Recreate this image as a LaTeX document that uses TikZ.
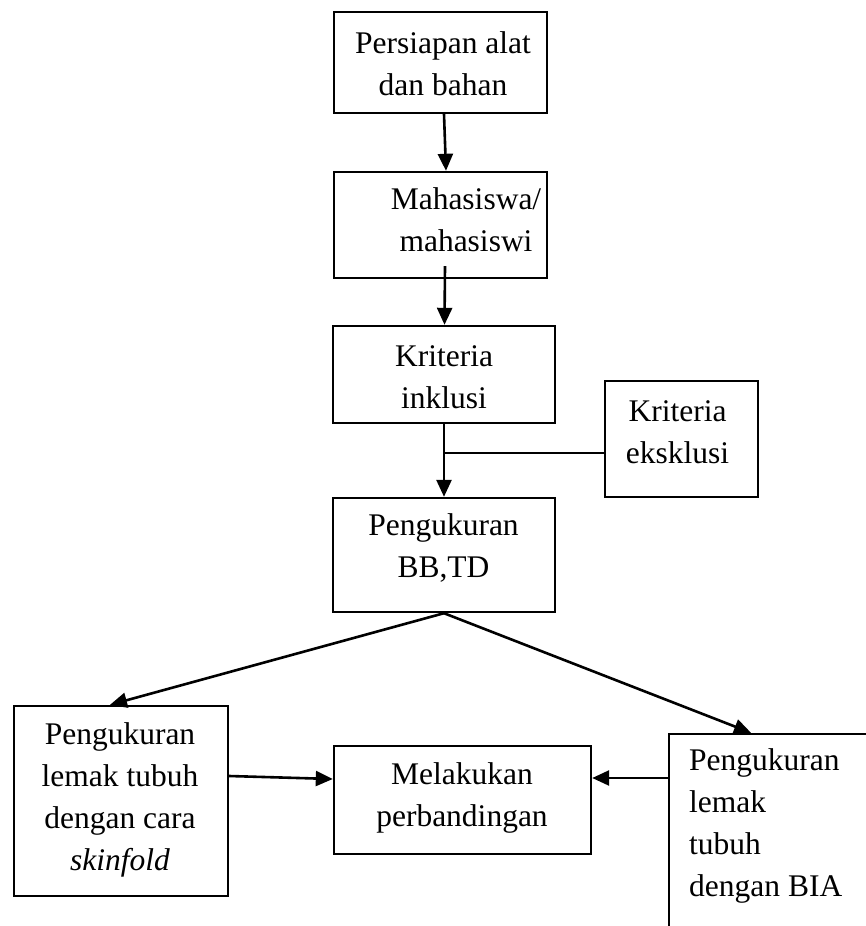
\documentclass[tikz,border=0pt]{standalone}
\usepackage{fontspec}
\setmainfont{Liberation Serif}
\usetikzlibrary{arrows.meta}
\begin{document}
\begin{tikzpicture}[x=1pt,y=-1pt,
  box/.style={draw,line width=2.4pt,inner sep=0pt},
  txt/.style={align=center,font=\fontsize{31.5}{42}\selectfont,inner sep=0pt},
  ln/.style={line width=2.6pt},
  arr/.style={line width=2.6pt,-{Triangle[length=17pt,width=15pt]}}]
\clip (0,0) rectangle (866,926);
\fill[white] (0,0) rectangle (866,926);
% boxes
\node[box,minimum width=213,minimum height=101] (b1) at (440.5,62.5) {};
\node[box,minimum width=213,minimum height=106] (b2) at (440.5,225) {};
\node[box,minimum width=222,minimum height=97] (b3) at (444,374.5) {};
\node[box,minimum width=153,minimum height=116] (bex) at (681.5,439) {};
\node[box,minimum width=222,minimum height=114] (b4) at (444,555) {};
\node[box,minimum width=214,minimum height=190] (bl) at (121,801) {};
\node[box,minimum width=257,minimum height=108] (bm) at (462.5,800) {};
\node[box,minimum width=211,minimum height=226] (br) at (774.5,847) {};
% texts
\node[txt] (t1) at (443,64) {Persiapan alat\\dan bahan};
\node[txt] (t2) at (466,220) {Mahasiswa/\\mahasiswi};
\node[txt] (t3) at (444,377) {Kriteria\\inklusi};
\node[txt] (tex) at (677.5,432) {Kriteria\\eksklusi};
\node[txt] (t4) at (443.5,548) {Pengukuran\\BB,TD};
\node[txt] (tl) at (120,800) {Pengukuran\\lemak tubuh\\dengan cara\\\textit{skinfold}};
\node[txt] (tm) at (462,797.5) {Melakukan\\perbandingan};
\node[txt,align=left,anchor=west] (tr) at (689,826) {Pengukuran\\lemak\\tubuh\\dengan BIA};
% connectors
\draw[arr] ([xshift=3.5]b1.south) -- ([xshift=5.5]b2.north);
\draw[arr] ([xshift=4.5,yshift=13]b2.south) -- ([xshift=0.5]b3.north);
\draw[arr] (b3.south) -- (b4.north);
\coordinate (j) at (444,453);
\draw[ln] (j) -- (j -| bex.west);
\draw[arr] (b4.south) -- ([xshift=-11]bl.north);
\draw[arr] (b4.south) -- ([xshift=-23.5]br.north);
\draw[arr] ([yshift=25]bl.east) -- ([yshift=21]bm.west);
\draw[arr] ([yshift=69]br.west) -- ([yshift=22]bm.east);
\end{tikzpicture}
\end{document}
